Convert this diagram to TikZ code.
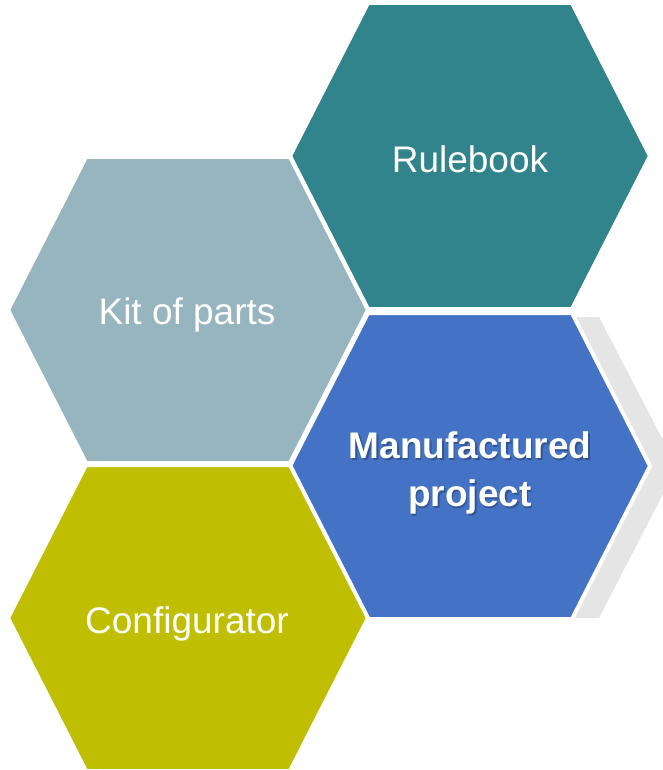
\documentclass[tikz,border=0pt]{standalone}
\usepackage{fontspec}
\setmainfont{Liberation Sans}
\usetikzlibrary{positioning}
\definecolor{rulebookcol}{RGB}{49,131,140}
\definecolor{kitcol}{RGB}{151,181,191}
\definecolor{projectcol}{RGB}{68,114,196}
\definecolor{configcol}{RGB}{191,190,0}
\definecolor{shadowcol}{RGB}{229,229,229}
\tikzset
{
    hexcell/.style  = {draw=white, line width=2pt, line join=miter},
    hexlabel/.style = {text=white, align=center, font=\fontsize{18.5}{24}\selectfont},
    hexshadow/.style = {text=black, opacity=0.25, align=center, font=\fontsize{18.5}{24}\selectfont\bfseries}
}

\begin{document}
\begin{tikzpicture}[x=0.5pt,y=-0.5pt]
\useasboundingbox (0,0) rectangle (663,770);
\clip (0,0) rectangle (663,770);
\coordinate (rb) at (470,156);
\coordinate (kp) at (188,310);
\coordinate (mp) at (470,466);
\coordinate (cf) at (188,618);
% shadow behind the project cell
\fill[shadowcol] (560,317) -- (599,317) -- (677,467) -- (599,618) -- (560,618) -- cycle;
% the four cells
\draw[hexcell, fill=rulebookcol] (rb) +(-180,0) -- +(-102,-153) -- +(102,-153) -- +(180,0) -- +(102,153) -- +(-102,153) -- cycle;
\draw[hexcell, fill=kitcol] (kp) +(-180,0) -- +(-102,-153) -- +(102,-153) -- +(180,0) -- +(102,153) -- +(-102,153) -- cycle;
\draw[hexcell, fill=projectcol] (mp) +(-180,0) -- +(-102,-153) -- +(102,-153) -- +(180,0) -- +(102,153) -- +(-102,153) -- cycle;
\draw[hexcell, fill=configcol] (cf) +(-180,0) -- +(-102,-153) -- +(102,-153) -- +(180,0) -- +(102,153) -- +(-102,153) -- cycle;
% labels
\node [hexlabel] at (470,159) (rbt) {Rulebook};
\node [hexlabel] at (187,315) (kpt) {Kit of parts};
\node [hexshadow] at (471.5,474.5) (mps) {Manufactured\\project};
\node [hexlabel, font=\fontsize{18.5}{24}\selectfont\bfseries] at (470,473) (mpt) {Manufactured\\project};
\node [hexlabel] at (187,624) (cft) {Configurator};
\end{tikzpicture}
\end{document}
